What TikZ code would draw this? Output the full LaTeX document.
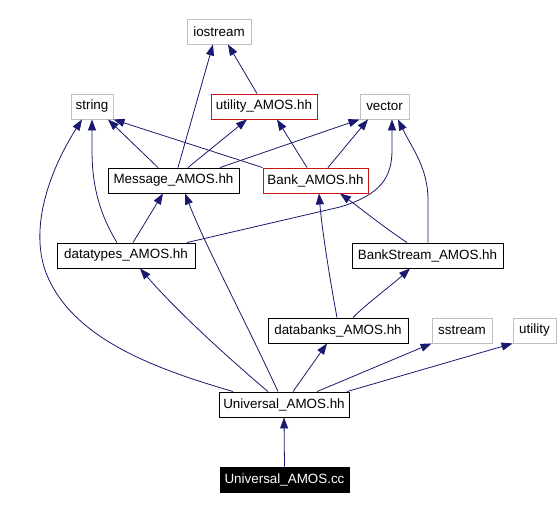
\documentclass[tikz,border=0pt]{standalone}
\usepackage{fontspec}
\setmainfont{Liberation Sans}
\usetikzlibrary{arrows.meta}
\definecolor{edgeblue}{RGB}{25,25,112}
\definecolor{sysgrey}{RGB}{191,191,191}
\definecolor{boxred}{RGB}{204,20,20}
\begin{document}
\begin{tikzpicture}[x=1pt,y=-1pt,
  hbox/.style={draw=black,line width=0.9pt,fill=white,inner sep=0pt,minimum height=25pt,font=\fontsize{13.4}{16}\selectfont},
  sysbox/.style={hbox,draw=sysgrey},
  redbox/.style={hbox,draw=boxred},
  curbox/.style={hbox,fill=black,text=white},
  edge/.style={draw=edgeblue,line width=0.8pt,-{Triangle[length=11pt,width=8pt]}}]
\useasboundingbox[fill=white] (0,0) rectangle (560,510);
% nodes
\node[sysbox,minimum width=64pt] (iostream) at (219,31.5) {iostream};
\node[sysbox,minimum width=42pt] (string) at (92,106.5) {string};
\node[redbox,minimum width=106pt] (utilAMOS) at (264,106.5) {utility\_AMOS.hh};
\node[sysbox,minimum width=49pt] (vector) at (384.5,106.5) {vector};
\node[hbox,minimum width=131pt] (msg) at (173.5,180.5) {Message\_AMOS.hh};
\node[redbox,minimum width=105pt] (bank) at (315.5,180.5) {Bank\_AMOS.hh};
\node[hbox,minimum width=138pt] (datatypes) at (126,255.5) {datatypes\_AMOS.hh};
\node[hbox,minimum width=151pt] (bankstream) at (427.5,255.5) {BankStream\_AMOS.hh};
\node[hbox,minimum width=140pt] (databanks) at (338,330.5) {databanks\_AMOS.hh};
\node[sysbox,minimum width=60pt] (sstream) at (462,330.5) {sstream};
\node[sysbox,minimum width=43pt] (utility) at (534.5,330.5) {utility};
\node[hbox,minimum width=130pt] (unihh) at (284,404.5) {Universal\_AMOS.hh};
\node[curbox,minimum width=129pt] (unicc) at (284.5,479.5) {Universal\_AMOS.cc};
% edges
\draw[edge] ([xshift=4.5pt]msg.north) -- ([xshift=-6pt]iostream.south);
\draw[edge] ([xshift=-7pt]utilAMOS.north) -- ([xshift=9pt]iostream.south);
\draw[edge] ([xshift=-15.5pt]msg.north) -- ([xshift=16pt]string.south);
\draw[edge] (bank.north west) -- (string.south east);
\draw[edge] ([xshift=14.5pt]msg.north) -- ([xshift=-17pt]utilAMOS.south);
\draw[edge] ([xshift=-8.5pt]bank.north) -- ([xshift=13pt]utilAMOS.south);
\draw[edge] ([xshift=46.5pt]msg.north) -- (vector.south west);
\draw[edge] ([xshift=12.5pt]bank.north) -- ([xshift=-16.5pt]vector.south);
\draw[edge] ([xshift=61pt]datatypes.north) -- (340,207) .. controls (380,195) and (392,178) .. (392,150) -- ([xshift=7.5pt]vector.south);
\draw[edge] ([xshift=0.5pt]bankstream.north) -- (428,200) .. controls (428,168) and (412,148) .. ([xshift=13.5pt]vector.south);
\draw[edge] ([xshift=-20.5pt]bankstream.north) .. controls (385,228) and (360,208) .. ([xshift=24.5pt]bank.south);
\draw[edge] ([xshift=-1pt]databanks.north) .. controls (330,280) and (322,230) .. ([xshift=3.5pt]bank.south);
\draw[edge] ([xshift=7pt]datatypes.north) -- ([xshift=-10.5pt]msg.south);
\draw[edge] ([xshift=-9pt]datatypes.north) .. controls (97,210) and (92,180) .. (92,150) -- (string.south);
\draw[edge] ([xshift=-51pt]unihh.north) .. controls (160,370) and (70,340) .. (45,270) .. controls (30,225) and (50,170) .. ([xshift=-10pt]string.south);
\draw[edge] ([xshift=-6pt]unihh.north) .. controls (245,320) and (205,245) .. ([xshift=11.5pt]msg.south);
\draw[edge] ([xshift=-16pt]unihh.north) .. controls (240,368) and (180,315) .. ([xshift=14pt]datatypes.south);
\draw[edge] ([xshift=9pt]unihh.north) -- ([xshift=-11pt]databanks.south);
\draw[edge] ([xshift=33pt]unihh.north) -- (sstream.south west);
\draw[edge] ([xshift=63pt]unihh.north) -- (utility.south west);
\draw[edge] ([xshift=15pt]databanks.north) .. controls (365,305) and (392,285) .. ([xshift=-17.5pt]bankstream.south);
\draw[edge] (unicc.north) -- (unihh.south);
\end{tikzpicture}
\end{document}
